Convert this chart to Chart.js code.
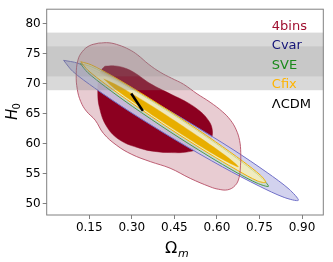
<!DOCTYPE html>
<html>
<head>
<meta charset="utf-8">
<script src="https://cdn.jsdelivr.net/npm/chart.js@4.4.0/dist/chart.umd.min.js"></script>
<style>
  html, body { margin: 0; padding: 0; background: #fff; }
</style>
</head>
<body>
<canvas id="mychart" width="333" height="262"></canvas>
<script>
// contour outlines, (Omega_m, H0)
var bins4Outer = [[0.183,76.75],[0.22,76.8],[0.255,76.4],[0.29,75.7],[0.32,74.8],[0.36,73.2],[0.40,71.9],[0.44,70.9],[0.482,69.9],[0.53,68.3],[0.576,66.9],[0.62,65.3],[0.648,63.9],[0.668,62.3],[0.68,60.5],[0.684,58.5],[0.683,56.3],[0.678,54.3],[0.664,53.0],[0.638,52.3],[0.605,52.4],[0.576,52.8],[0.506,54.2],[0.435,55.9],[0.365,57.0],[0.30,58.2],[0.247,59.7],[0.20,61.7],[0.171,63.9],[0.14,65.4],[0.12,67.0],[0.108,69.0],[0.104,71.5],[0.110,73.9],[0.125,75.3],[0.15,76.3]];
var bins4Inner = [[0.205,72.9],[0.24,72.95],[0.275,72.6],[0.31,71.8],[0.365,70.0],[0.435,68.3],[0.494,66.9],[0.535,65.6],[0.565,64.2],[0.583,62.5],[0.578,60.6],[0.545,59.3],[0.494,58.6],[0.44,58.5],[0.38,58.7],[0.33,59.2],[0.259,60.55],[0.212,62.8],[0.186,66.0],[0.18,68.9],[0.185,71.3],[0.195,72.4]];
var cvarOuter = [[0.0595,73.88],[0.1095,73.40],[0.1975,71.50],[0.3261,68.33],[0.4930,63.78],[0.6570,59.00],[0.7771,55.17],[0.8546,52.40],[0.887,50.55],[0.8370,51.03],[0.7489,52.92],[0.6204,56.10],[0.4535,60.63],[0.2894,65.43],[0.1694,69.25],[0.0919,72.03]];
var sveOuter = [[0.1183,73.33],[0.1581,72.80],[0.2289,71.07],[0.3313,68.22],[0.4655,64.22],[0.5968,60.02],[0.6930,56.73],[0.7553,54.37],[0.7817,52.87],[0.7419,53.40],[0.6711,55.13],[0.5687,57.97],[0.4345,61.98],[0.3032,66.17],[0.2070,69.47],[0.1447,71.83]];
var cfixOuter = [[0.12,73.65],[0.1574,73.12],[0.2282,71.35],[0.3303,68.48],[0.4641,64.47],[0.5958,60.28],[0.6923,57.02],[0.7546,54.68],[0.772,53.55],[0.7426,53.78],[0.6722,55.55],[0.5697,58.42],[0.4359,62.43],[0.3042,66.62],[0.2081,69.88],[0.1454,72.22]];
var cfixInner = [[0.2011,70.77],[0.2528,69.62],[0.3504,66.87],[0.4458,63.98],[0.5398,61.00],[0.6324,57.92],[0.6757,56.13],[0.6239,57.28],[0.5264,60.03],[0.4310,62.92],[0.3370,65.90],[0.2444,68.98]];
var lcdm = [[0.298,68.35],[0.339,65.45]];

// local H0 band
var h0Outer = [68.9, 78.5];
var h0Inner = [71.2, 76.2];

var xTicks = [0.15, 0.30, 0.45, 0.60, 0.75, 0.90];
var yTicks = [50, 55, 60, 65, 70, 75, 80];

var legendNames = ["4bins", "Cvar", "SVE", "Cfix", "\u039bCDM"];
var legendColors = ["#a01030", "#141478", "#1a8a1a", "#ffb400", "#000000"];

function closed(arr) {
  var pts = arr.map(function (p) { return {x: p[0], y: p[1]}; });
  pts.push({x: arr[0][0], y: arr[0][1]});
  return pts;
}

function shape(arr, bg, border, bw, tension) {
  return {
    data: closed(arr),
    showLine: true,
    fill: bg ? 'shape' : false,
    backgroundColor: bg || 'rgba(0,0,0,0)',
    borderColor: border,
    borderWidth: bw,
    pointRadius: 0,
    tension: tension
  };
}

// first dataset is drawn on top
var datasets = [
  {
    data: lcdm.map(function (p) { return {x: p[0], y: p[1]}; }),
    showLine: true, fill: false, borderColor: '#000', borderWidth: 2.5, pointRadius: 0
  },
  shape(bins4Outer, null, 'rgba(180,70,95,0.85)', 1, 0.4),
  shape(cfixInner, '#e8ae00', 'rgba(232,174,0,0.8)', 0.5, 0.3),
  shape(cfixOuter, 'rgba(255,243,185,0.7)', '#f0b000', 1, 0.3),
  shape(sveOuter, 'rgba(200,220,190,0.6)', '#4a9a4a', 1, 0.3),
  shape(cvarOuter, 'rgba(205,205,236,0.9)', '#7070c8', 1, 0.3),
  shape(bins4Inner, '#8c0020', '#8c0020', 0.5, 0.4),
  shape(bins4Outer, 'rgba(139,0,30,0.2)', 'rgba(0,0,0,0)', 0, 0.4)
];

var bandPlugin = {
  id: 'bandPlugin',
  afterDatasetsDraw: function (chart) {
    var ctx = chart.ctx, a = chart.chartArea, y = chart.scales.y;
    ctx.save();
    ctx.fillStyle = 'rgba(128,128,128,0.3)';
    var t = y.getPixelForValue(h0Outer[1]), b = y.getPixelForValue(h0Outer[0]);
    ctx.fillRect(a.left, t, a.right - a.left, b - t);
    ctx.fillStyle = 'rgba(128,128,128,0.19)';
    t = y.getPixelForValue(h0Inner[1]); b = y.getPixelForValue(h0Inner[0]);
    ctx.fillRect(a.left, t, a.right - a.left, b - t);
    ctx.restore();
  },
  afterDraw: function (chart) {
    var ctx = chart.ctx, a = chart.chartArea;
    ctx.save();
    // frame
    ctx.strokeStyle = '#808080';
    ctx.lineWidth = 1;
    ctx.strokeRect(a.left, a.top, a.right - a.left, a.bottom - a.top);
    // legend text
    ctx.font = '13px "DejaVu Sans"';
    ctx.textBaseline = 'middle';
    ctx.textAlign = 'left';
    for (var i = 0; i < legendNames.length; i++) {
      ctx.fillStyle = legendColors[i];
      ctx.fillText(legendNames[i], a.right - 51.5, a.top + 17 + i * 19.6);
    }
    // axis titles
    ctx.fillStyle = '#000';
    ctx.textBaseline = 'alphabetic';
    ctx.font = '16px "DejaVu Sans"';
    ctx.fillText('\u03a9', 165, 253.3);
    ctx.font = 'italic 11px "DejaVu Sans"';
    ctx.fillText('m', 178, 256.5);
    ctx.translate(17.3, 120);
    ctx.rotate(-Math.PI / 2);
    ctx.font = 'italic 15px "DejaVu Sans"';
    ctx.fillText('H', 0, 0);
    ctx.font = '10px "DejaVu Sans"';
    ctx.fillText('0', 10.5, 3);
    ctx.restore();
  }
};

Chart.defaults.font.family = '"DejaVu Sans"';
Chart.defaults.font.size = 12;
Chart.defaults.color = '#000';

var ctx = document.getElementById("mychart");
var myChart = new Chart(ctx, {
  type: 'scatter',
  data: {datasets: datasets},
  options: {
    responsive: false,
    animation: false,
    layout: {padding: {top: 9, right: 9.7, left: 0, bottom: 0}},
    plugins: {legend: {display: false}, tooltip: {enabled: false}},
    scales: {
      x: {
        type: 'linear', min: 0.0, max: 0.975,
        afterBuildTicks: function (s) { s.ticks = xTicks.map(function (v) { return {value: v}; }); },
        afterFit: function (s) { s.height = 47; },
        ticks: {callback: function (v) { return v.toFixed(2); }, padding: 2, maxRotation: 0, autoSkip: false},
        grid: {drawOnChartArea: false, drawTicks: true, tickLength: 4, color: '#808080'},
        border: {display: false}
      },
      y: {
        type: 'linear', min: 48.1, max: 82.4,
        afterBuildTicks: function (s) { s.ticks = yTicks.map(function (v) { return {value: v}; }); },
        afterFit: function (s) { s.width = 46.7; },
        ticks: {padding: 2, autoSkip: false},
        grid: {drawOnChartArea: false, drawTicks: true, tickLength: 4, color: '#808080'},
        border: {display: false}
      }
    }
  },
  plugins: [bandPlugin]
});
</script>
</body>
</html>
